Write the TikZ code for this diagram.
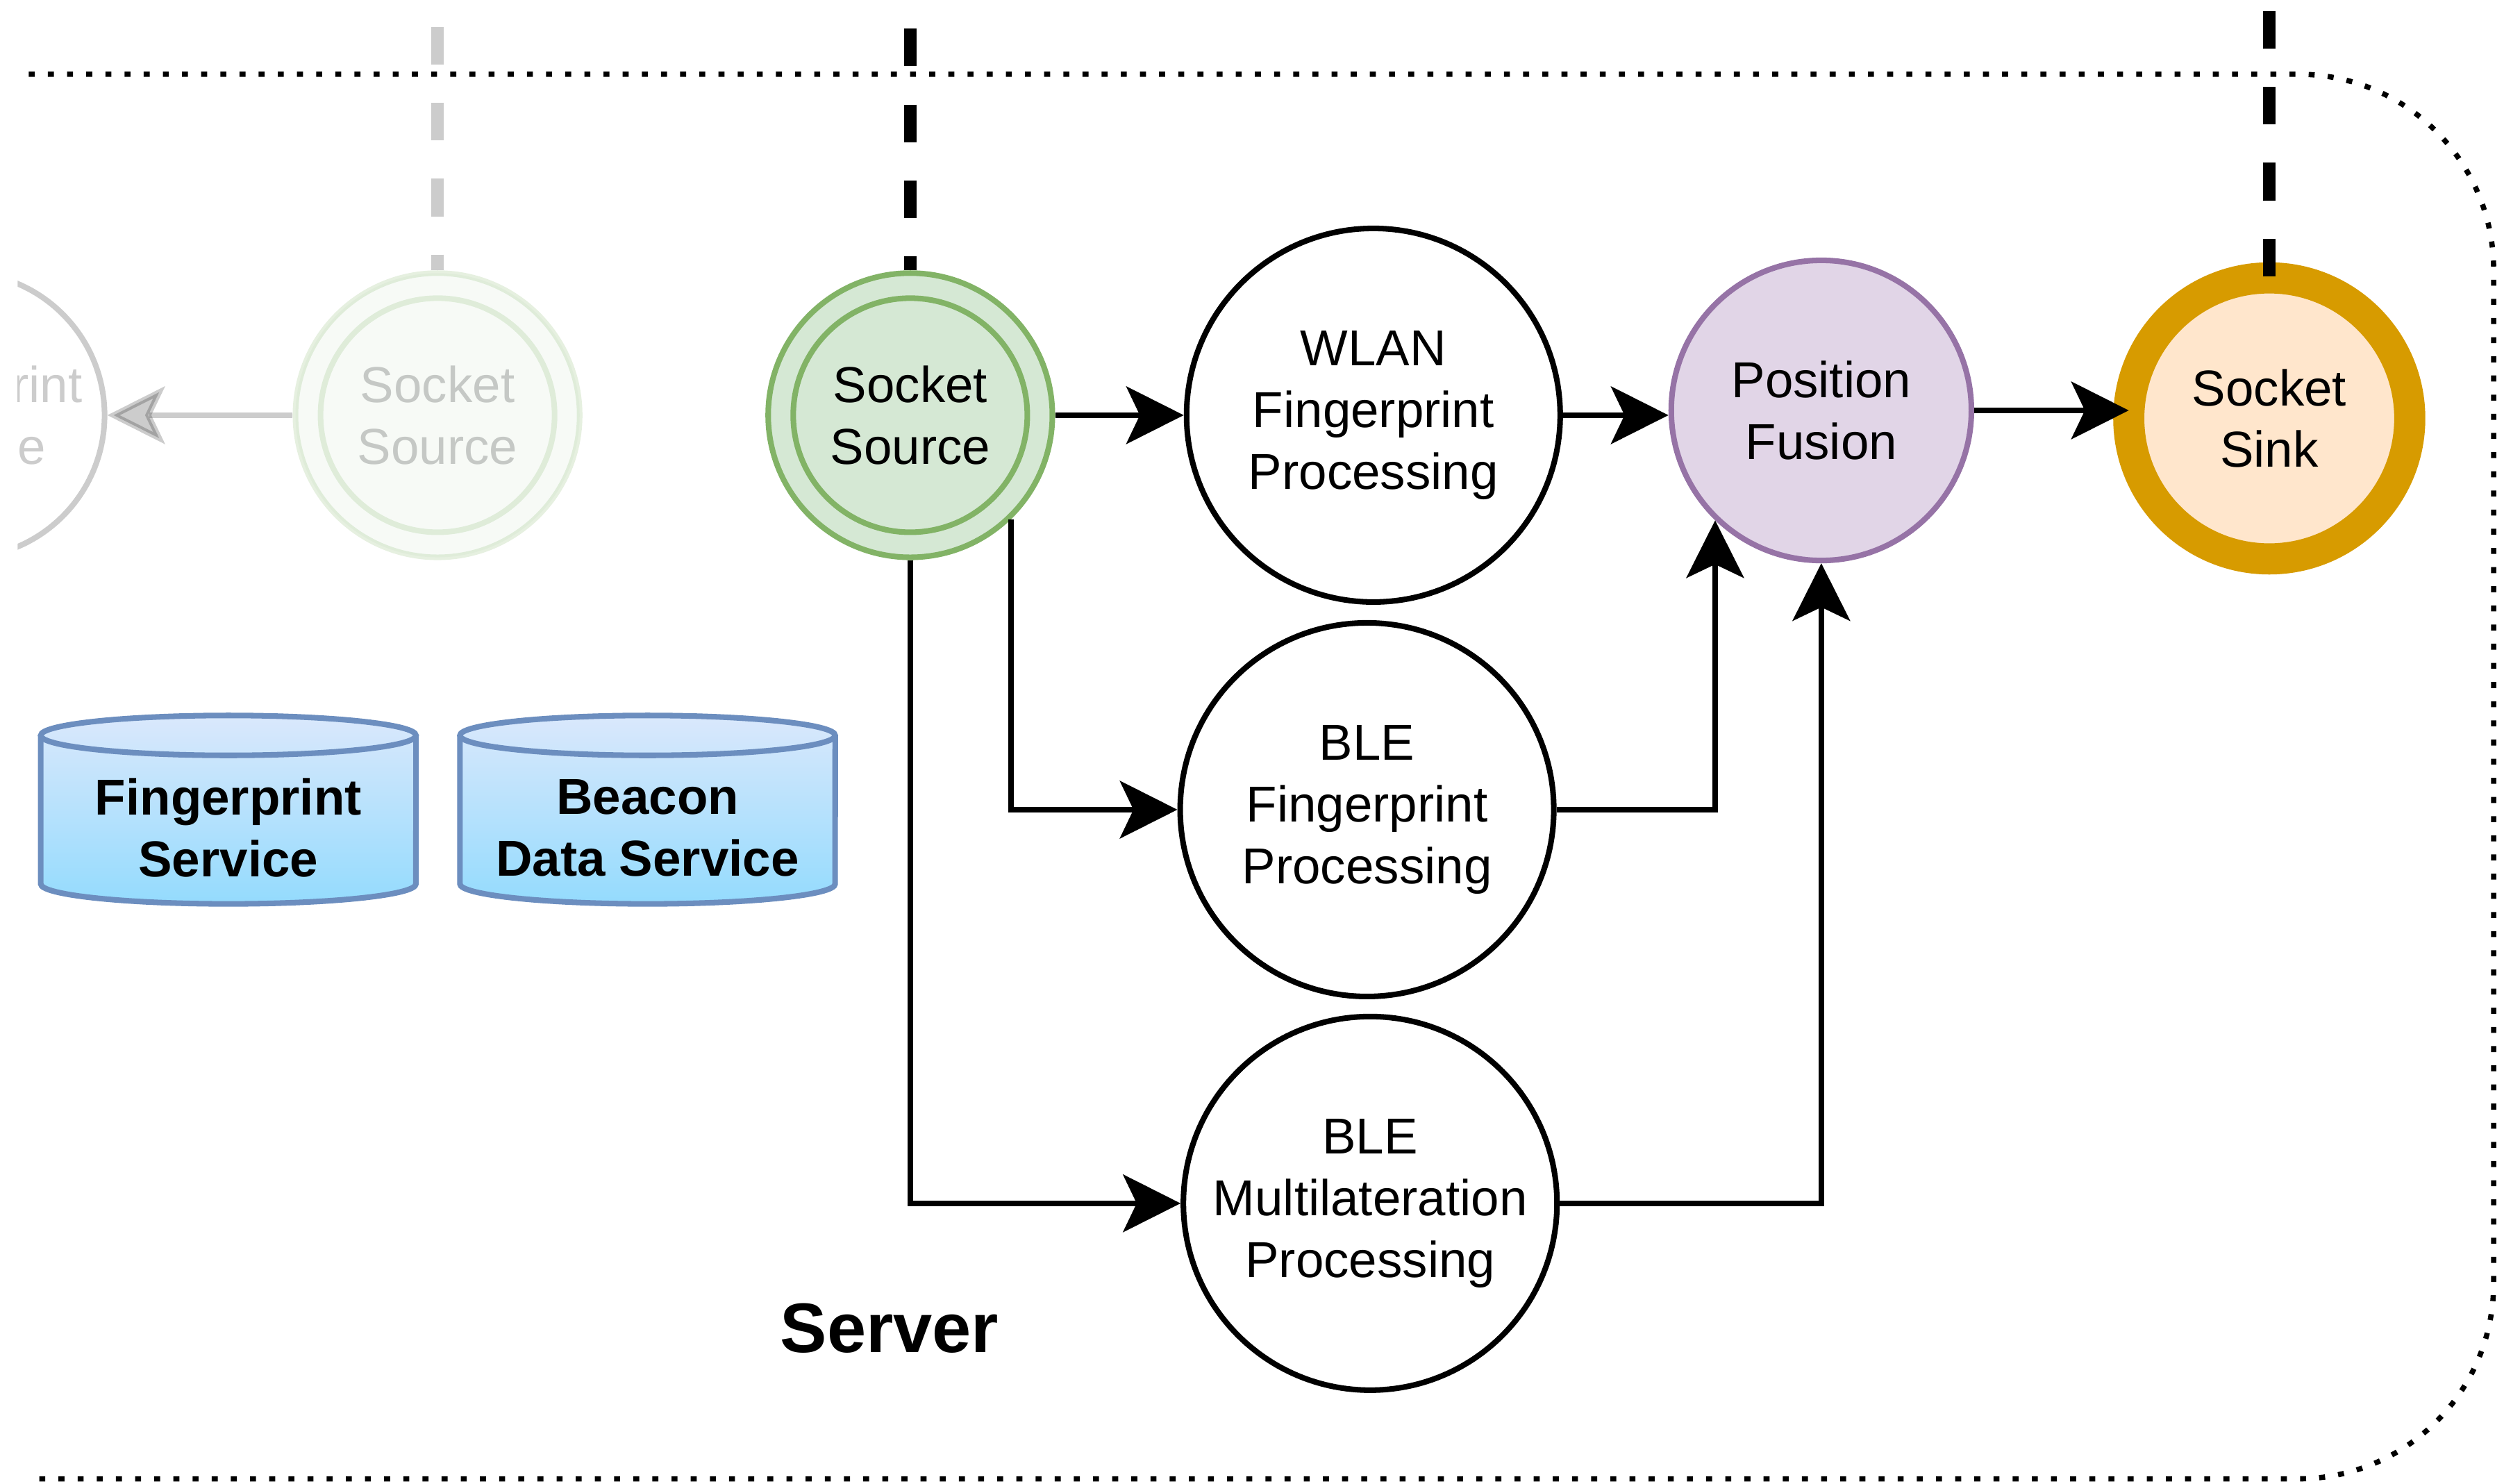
\documentclass[tikz,border=0pt]{standalone}
\usepackage{fontspec}
\setmainfont{Liberation Sans}
\usetikzlibrary{arrows.meta}
\definecolor{srcfill}{HTML}{D5E8D4}
\definecolor{srcline}{HTML}{82B366}
\definecolor{fusefill}{HTML}{E1D5E7}
\definecolor{fuseline}{HTML}{9673A6}
\definecolor{sinkfill}{HTML}{FFE6CC}
\definecolor{sinkline}{HTML}{D79B00}
\definecolor{cylline}{HTML}{6C8EBF}
\definecolor{cyltop}{HTML}{DAE8FC}
\definecolor{cylbot}{HTML}{94DBFD}
\tikzset{
	proc/.style={circle, draw, fill=white, line width=0.07cm, minimum size=4.68cm, inner sep=0pt, align=center, font=\fontsize{18}{22}\selectfont},
	socket/.style={proc, draw=srcline, fill=srcfill, minimum size=3.56cm},
	fusion/.style={proc, draw=fuseline, fill=fusefill, minimum size=3.76cm},
	sink/.style={proc, draw=sinkline, fill=sinkfill, line width=0.39cm, minimum size=3.52cm, outer sep=0pt},
	dbtext/.style={align=center, inner sep=0pt, font=\fontsize{18}{22}\selectfont\bfseries},
	arr/.style={line width=0.07cm, -{Stealth[length=0.72cm, width=0.72cm, inset=0.17cm]}},
	link/.style={line width=0.16cm, dash pattern=on 0.47cm off 0.48cm},
	frame/.style={line width=0.066cm, dash pattern=on 0.075cm off 0.165cm, rounded corners=2.45cm},
}
\begin{document}
\begin{tikzpicture}[x=0.02cm, y=0.02cm]
	\useasboundingbox (0,0) rectangle (1568,929);
	% server frame
	\draw[frame] (18,882.5) -- (1561.5,882.5) -- (1561.5,3) -- (18,3);
	% databases
	\foreach \cx/\nm/\txt in {143/fpsvc/{Fingerprint\\Service}, 405.5/bdsvc/{Beacon\\Data Service}} {
		\shade[top color=cyltop, bottom color=cylbot] (\cx-117.5,468.5) -- (\cx-117.5,375.5) arc (180:360:2.35cm and 0.25cm) -- (\cx+117.5,468.5) arc (0:180:2.35cm and 0.25cm) -- cycle;
		\draw[cylline, line width=0.07cm] (\cx-117.5,468.5) -- (\cx-117.5,375.5) arc (180:360:2.35cm and 0.25cm) -- (\cx+117.5,468.5);
		\draw[cylline, line width=0.07cm] (\cx,468.5) ellipse (2.35cm and 0.25cm);
		\node[dbtext] (\nm) at (\cx,410.5) {\txt};
	}
	% faded part
	\begin{scope}[opacity=0.2]
		\begin{scope}
			\clip (11,0) rectangle (600,929);
			\node[proc, minimum size=3.58cm] (oldfp) at (-24,669) {Fingerprint\\Service};
		\end{scope}
		\node[socket] (fss) at (274,669) {Socket\\Source};
		\draw[srcline, line width=0.07cm] (fss.center) circle (1.466cm);
		\coordinate (fsstop) at (274,912);
		\draw[arr] (fss) -- (oldfp);
		\draw[link] (fsstop) -- (fss);
	\end{scope}
	% pipeline
	\node[socket] (ss) at (570,669) {Socket\\Source};
	\draw[srcline, line width=0.07cm] (ss.center) circle (1.466cm);
	\node[proc] (wlan) at (860,669) {WLAN\\Fingerprint\\Processing};
	\node[proc] (blefp) at (856,422) {BLE\\Fingerprint\\Processing};
	\node[proc] (blemul) at (858,175.5) {BLE\\Multilateration\\Processing};
	\node[fusion] (pf) at (1140.5,672) {Position\\Fusion};
	\node[sink] (sink) at (1421,667) {Socket\\Sink};
	\node[font=\fontsize{25}{30}\selectfont\bfseries, anchor=base] (srv) at (557,82) {Server};
	\coordinate (sstop) at (570,911);
	\coordinate (sinktop) at (1421,922);
	\draw[link] (sstop) -- (ss);
	\draw[link] (sinktop) -- (sink);
	\draw[arr] (ss) -- (wlan);
	\draw[arr] (ss.-46) |- (blefp);
	\draw[arr] (ss) |- (blemul);
	\draw[arr] (wlan.east) -- (wlan.east -| pf.west);
	\draw[arr] (blefp) -| (pf.-134);
	\draw[arr] (blemul) -| (pf);
	\draw[arr] (pf.east) -- (pf.east -| sink.west);
\end{tikzpicture}
\end{document}
